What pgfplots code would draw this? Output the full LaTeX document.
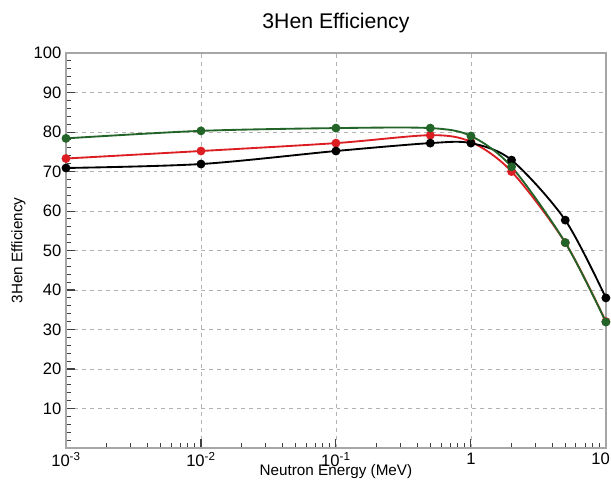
\documentclass[border=0pt]{standalone}
\usepackage{pgfplots}
\pgfplotsset{compat=1.18}
\usepackage{fontspec}
\setmainfont{Liberation Sans}
\definecolor{rgreen}{RGB}{35,100,40}
\definecolor{rred}{RGB}{220,30,35}
\begin{document}
\begin{tikzpicture}
\def\u{0.0265cm}
\begin{axis}[
  scale only axis,
  width=14.31cm, height=10.4675cm,
  xmode=log, xmin=0.001, xmax=10,
  ymin=0, ymax=100,
  xtick={0.001,0.01,0.1,1,10},
  xticklabels={10\textsuperscript{-3},10\textsuperscript{-2},10\textsuperscript{-1},1,10\kern8pt},
  minor xtick={0.002,0.003,0.004,0.005,0.006,0.007,0.008,0.009,
               0.02,0.03,0.04,0.05,0.06,0.07,0.08,0.09,
               0.2,0.3,0.4,0.5,0.6,0.7,0.8,0.9,
               2,3,4,5,6,7,8,9},
  ytick={0,10,20,...,100},
  yticklabels={,10,20,30,40,50,60,70,80,90,100},
  minor y tick num=4,
  xmajorgrids, ymajorgrids,
  major grid style={dashed,gray!60,line width=0.6pt},
  tick pos=left,
  tick align=inside,
  major tick length=7pt,
  minor tick length=4pt,
  tick style={black!75,line width=0.8pt},
  minor tick style={black!75,line width=0.7pt},
  axis line style={gray!70,line width=1.1pt},
  /pgf/number format/assume math mode=true,
  tick label style={font=\fontsize{12.5}{14}\selectfont},
  xlabel={Neutron Energy (MeV)},
  ylabel={3Hen Efficiency},
  label style={font=\fontsize{11.5}{13}\selectfont},
  xlabel style={at={(axis description cs:0.5,0)},anchor=north,yshift=-9pt},
  ylabel style={at={(axis description cs:0,0.5)},anchor=south,yshift=27pt},
  title={3Hen Efficiency},
  title style={font=\fontsize{16}{18}\selectfont,yshift=6pt},
  clip=false,
]
\addplot[rred, line width=1.4pt, smooth, mark=*, mark size=2.6pt] coordinates {
(0.001,73.3) (0.01,75.2) (0.1,77.2) (0.5,79.2) (1,77.5) (2,70.0) (5,52.0) (10,32.0)};
\addplot[black, line width=1.4pt, smooth, mark=*, mark size=2.6pt] coordinates {
(0.001,70.9) (0.01,71.9) (0.1,75.2) (0.5,77.2) (1,77.2) (2,72.9) (5,57.7) (10,38.0)};
\addplot[rgreen, line width=1.4pt, smooth, mark=*, mark size=2.6pt] coordinates {
(0.001,78.4) (0.01,80.3) (0.1,81.0) (0.5,81.0) (1,79.0) (2,71.2) (5,52.0) (10,31.9)};
\end{axis}
\pgfresetboundingbox
\path (-66*\u,-35*\u) rectangle (545*\u,448*\u);
\end{tikzpicture}
\end{document}
